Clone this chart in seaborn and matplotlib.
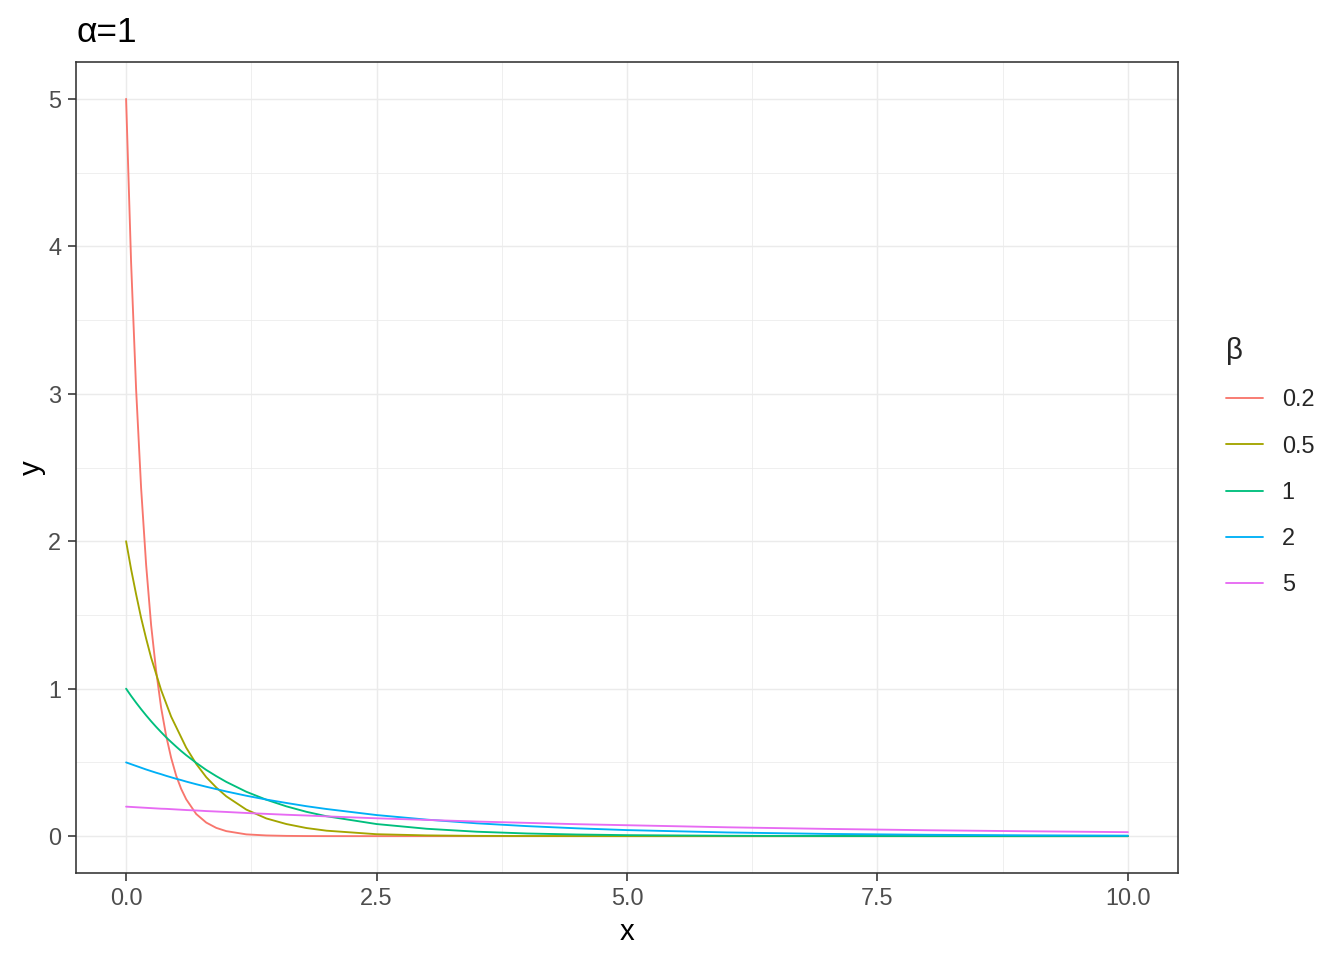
import matplotlib
matplotlib.use("Agg")
import matplotlib.pyplot as plt
import seaborn as sns
import pandas as pd
from matplotlib.ticker import MultipleLocator
from matplotlib.lines import Line2D

# ---- data ----
x_vals = [0, 0.05, 0.1, 0.15, 0.2, 0.25, 0.3, 0.35, 0.4, 0.45, 0.5, 0.55, 0.6, 0.7, 0.8, 0.9, 1.0,
          1.2, 1.4, 1.6, 1.8, 2.0, 2.5, 3.0, 3.5, 4.0, 4.5, 5.0, 6.0, 7.0, 8.0, 9.0, 10.0]

y_beta_02 = [5.0, 3.89, 3.03, 2.36, 1.84, 1.43, 1.12, 0.87, 0.68, 0.53, 0.41, 0.32, 0.25, 0.15, 0.092, 0.056, 0.034,
             0.012, 0.0046, 0.0017, 0.0006, 0.0002, 0, 0, 0, 0, 0, 0, 0, 0, 0, 0, 0]
y_beta_05 = [2.0, 1.81, 1.64, 1.48, 1.34, 1.21, 1.10, 0.99, 0.90, 0.81, 0.74, 0.67, 0.60, 0.49, 0.40, 0.33, 0.27,
             0.18, 0.12, 0.082, 0.055, 0.037, 0.013, 0.005, 0.0018, 0.0007, 0.00025, 0.0001, 0, 0, 0, 0, 0]
y_beta_1 = [1.0, 0.951, 0.905, 0.861, 0.819, 0.779, 0.741, 0.705, 0.670, 0.638, 0.607, 0.577, 0.549, 0.497, 0.449, 0.407, 0.368,
            0.301, 0.247, 0.202, 0.165, 0.135, 0.082, 0.050, 0.030, 0.018, 0.011, 0.0067, 0.0025, 0.0009, 0.0003, 0.0001, 0.00005]
y_beta_2 = [0.5, 0.488, 0.476, 0.464, 0.452, 0.441, 0.430, 0.420, 0.409, 0.399, 0.389, 0.380, 0.370, 0.352, 0.335, 0.319, 0.303,
            0.274, 0.248, 0.225, 0.203, 0.184, 0.143, 0.112, 0.087, 0.068, 0.053, 0.041, 0.025, 0.015, 0.0092, 0.0056, 0.0034]
y_beta_5 = [0.2, 0.198, 0.196, 0.194, 0.192, 0.190, 0.188, 0.186, 0.185, 0.183, 0.181, 0.179, 0.177, 0.174, 0.170, 0.167, 0.164,
            0.157, 0.151, 0.145, 0.140, 0.134, 0.121, 0.110, 0.099, 0.090, 0.081, 0.074, 0.060, 0.049, 0.040, 0.033, 0.027]

beta_labels = ["0.2", "0.5", "1", "2", "5"]
series = [y_beta_02, y_beta_05, y_beta_1, y_beta_2, y_beta_5]
colors = ["#F8766D", "#A3A500", "#00BF7D", "#00B0F6", "#E76BF3"]

x_ticks = [0, 2.5, 5, 7.5, 10]
x_tick_labels = ["0.0", "2.5", "5.0", "7.5", "10.0"]
y_ticks = [0, 1, 2, 3, 4, 5]

frames = []
for lab, ys in zip(beta_labels, series):
    frames.append(pd.DataFrame({"x": x_vals, "y": ys, "beta": lab}))
df = pd.concat(frames, ignore_index=True)

# ---- styling ----
sns.set_style("white")
plt.rcParams["font.family"] = ["Liberation Sans", "DejaVu Sans"]

fig = plt.figure(figsize=(14, 10), dpi=96)
L, R, T, B = 76 / 1344, 1178 / 1344, 1 - 62 / 960, 1 - 873 / 960
ax = fig.add_axes([L, B, R - L, T - B])

LW = 1.4
sns.lineplot(data=df, x="x", y="y", hue="beta", hue_order=beta_labels,
             palette=colors, linewidth=LW, ax=ax, legend=False, sort=False,
             estimator=None)

ax.set_xlim(-0.5, 10.5)
ax.set_ylim(-0.25, 5.25)
ax.set_xticks(x_ticks)
ax.set_xticklabels(x_tick_labels)
ax.set_yticks(y_ticks)
ax.xaxis.set_minor_locator(MultipleLocator(1.25))
ax.yaxis.set_minor_locator(MultipleLocator(0.5))

ax.set_axisbelow(True)
ax.grid(which="major", color="#EBEBEB", linewidth=1.1)
ax.grid(which="minor", color="#EBEBEB", linewidth=0.6)
for s in ax.spines.values():
    s.set_color("#333333")
    s.set_linewidth(1.2)

ax.tick_params(axis="both", which="major", length=6, width=1.2, color="#333333",
               labelcolor="#4D4D4D", labelsize=17.6, direction="out",
               bottom=True, left=True)
ax.tick_params(axis="x", which="major", pad=4.5)
ax.tick_params(axis="y", which="major", pad=5)
ax.tick_params(axis="both", which="minor", length=0)

ax.set_xlabel("x", fontsize=22, color="black", va="center")
ax.xaxis.set_label_coords(0.5, (873 - 932) / 811)
ax.set_ylabel("y", fontsize=22, color="black", va="center")
ax.yaxis.set_label_coords((32 - 76) / 1102, 0.5)

fig.text(L, 1 - 42 / 960, "α=1", fontsize=26.4, ha="left", va="baseline", color="black")

# legend
handles = [Line2D([0], [0], color=c, lw=LW) for c in colors]
leg = fig.legend(handles, beta_labels, title="β", loc="upper left",
                 bbox_to_anchor=(1205 / 1344, 1 - 316 / 960), frameon=False,
                 fontsize=17.6, title_fontsize=22, handlelength=1.57,
                 handletextpad=0.8, labelspacing=0.99, alignment="left")

fig.savefig("out.png", dpi=96)
